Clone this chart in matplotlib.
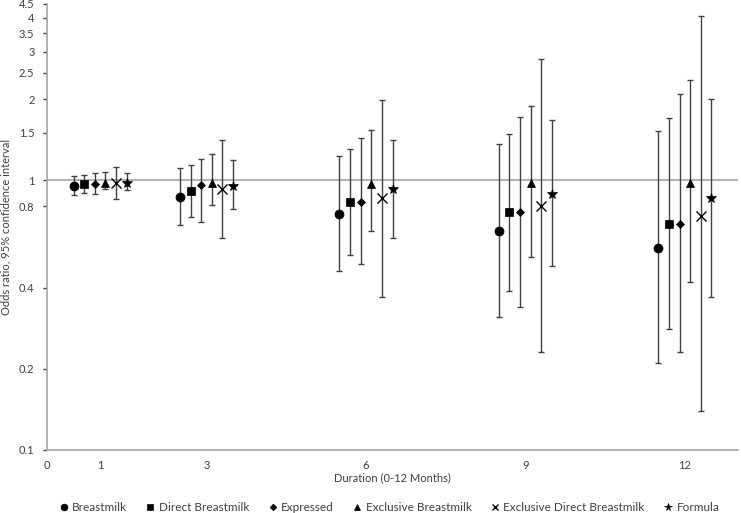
import matplotlib
matplotlib.use('Agg')
import matplotlib.pyplot as plt
from matplotlib.ticker import FixedLocator, FixedFormatter, NullLocator

plt.rcParams['font.family'] = ['Lato', 'DejaVu Sans']

# ==================== data ====================
months = [1, 3, 6, 9, 12]
series = ['Breastmilk', 'Direct Breastmilk', 'Expressed', 'Exclusive Breastmilk',
          'Exclusive Direct Breastmilk', 'Formula']
offsets = [-0.5, -0.3, -0.1, 0.1, 0.3, 0.5]
markers = ['o', 's', 'D', '^', 'x', '*']
msizes = [6.5, 5.5, 4.5, 6, 6.5, 7.5]

# odds ratio / lower / upper per series, one value per month
or_breastmilk = [0.95, 0.87, 0.75, 0.65, 0.56]
lo_breastmilk = [0.88, 0.68, 0.46, 0.31, 0.21]
hi_breastmilk = [1.04, 1.11, 1.23, 1.36, 1.52]

or_direct = [0.97, 0.91, 0.83, 0.76, 0.69]
lo_direct = [0.90, 0.73, 0.53, 0.39, 0.28]
hi_direct = [1.05, 1.14, 1.30, 1.48, 1.70]

or_expressed = [0.97, 0.96, 0.83, 0.76, 0.69]
lo_expressed = [0.89, 0.70, 0.49, 0.34, 0.23]
hi_expressed = [1.06, 1.20, 1.43, 1.71, 2.09]

or_exclusive = [0.98, 0.98, 0.97, 0.98, 0.98]
lo_exclusive = [0.93, 0.81, 0.65, 0.52, 0.42]
hi_exclusive = [1.07, 1.25, 1.53, 1.88, 2.36]

or_excl_direct = [0.98, 0.93, 0.86, 0.80, 0.74]
lo_excl_direct = [0.85, 0.61, 0.37, 0.23, 0.14]
hi_excl_direct = [1.12, 1.41, 1.99, 2.81, 4.05]

or_formula = [0.98, 0.95, 0.93, 0.89, 0.86]
lo_formula = [0.92, 0.78, 0.61, 0.48, 0.37]
hi_formula = [1.06, 1.19, 1.41, 1.67, 2.00]

ors = [or_breastmilk, or_direct, or_expressed, or_exclusive, or_excl_direct, or_formula]
los = [lo_breastmilk, lo_direct, lo_expressed, lo_exclusive, lo_excl_direct, lo_formula]
his = [hi_breastmilk, hi_direct, hi_expressed, hi_exclusive, hi_excl_direct, hi_formula]

y_ticks = [0.1, 0.2, 0.4, 0.8, 1, 1.5, 2, 2.5, 3, 3.5, 4, 4.5]
x_ticks = [0, 1, 3, 6, 9, 12]

# ==================== plot ====================
fig = plt.figure(figsize=(7.41, 5.13), dpi=100)
ax = fig.add_axes([47 / 741, 63 / 513, 691 / 741, 446 / 513])

ax.axhline(1, color='#a6a6a6', lw=1.2, zorder=1)

for i, name in enumerate(series):
    xs = [m + offsets[i] for m in months]
    yerr = [[o - l for o, l in zip(ors[i], los[i])],
            [h - o for o, h in zip(ors[i], his[i])]]
    ax.errorbar(xs, ors[i], yerr=yerr, fmt='none', ecolor='#404040',
                elinewidth=1.0, capsize=2.0, capthick=1.0, zorder=2)
    ax.plot(xs, ors[i], linestyle='none', marker=markers[i], ms=msizes[i],
            color='black', mew=1.0 if markers[i] == 'x' else 0.5,
            label=name, zorder=3)

ax.set_yscale('log')
ax.set_ylim(0.1, 4.5)
ax.set_xlim(0, 13)
ax.yaxis.set_major_locator(FixedLocator(y_ticks))
ax.yaxis.set_major_formatter(FixedFormatter([str(t) for t in y_ticks]))
ax.yaxis.set_minor_locator(NullLocator())
ax.set_xticks(x_ticks)
ax.set_xticklabels([str(t) for t in x_ticks])

for s in ['top', 'right']:
    ax.spines[s].set_visible(False)
for s in ['left', 'bottom']:
    ax.spines[s].set_color('#a6a6a6')
    ax.spines[s].set_linewidth(1.2)

ax.tick_params(axis='y', length=3, width=1, color='#404040', labelsize=8,
               labelcolor='#404040', pad=6)
ax.tick_params(axis='x', length=0, labelsize=8, labelcolor='#404040', pad=7)

ax.set_ylabel('Odds ratio, 95% confidence interval', fontsize=8, color='#404040')
ax.yaxis.set_label_coords(-0.052, 0.5)
ax.set_xlabel('Duration (0-12 Months)', fontsize=8, color='#404040')
ax.xaxis.set_label_coords(0.5, -0.05)

fig.legend(loc='lower center', bbox_to_anchor=(0.525, -0.02), ncol=6, frameon=False,
           fontsize=8.5, handlelength=0.8, handletextpad=0.3, columnspacing=1.6,
           markerscale=0.75, labelcolor='#404040')

plt.savefig('out.png', dpi=100)
